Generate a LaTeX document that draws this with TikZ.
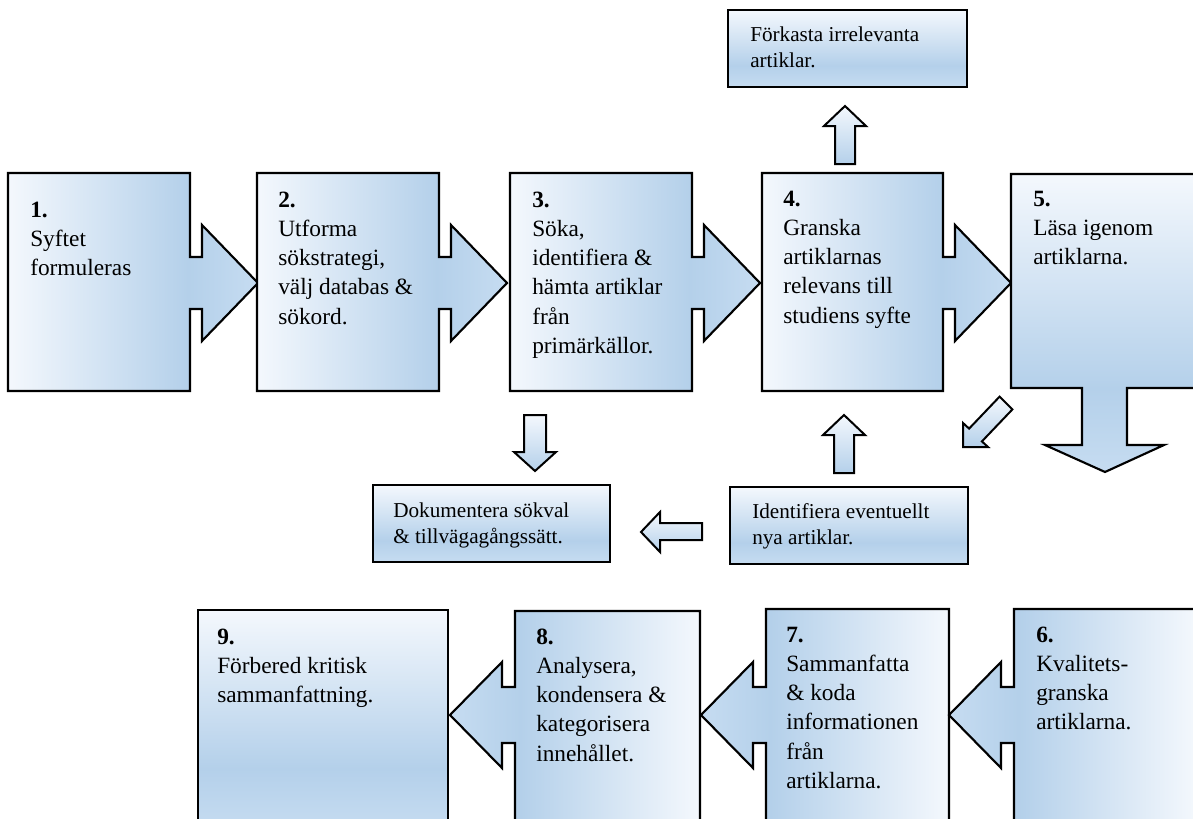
\documentclass[tikz,border=0pt]{standalone}
\usepackage{fontspec}
\setmainfont{Liberation Serif}
\definecolor{lt}{RGB}{244,248,253}
\definecolor{bl}{RGB}{180,208,234}
\definecolor{bltwo}{RGB}{198,220,241}
\pgfdeclarehorizontalshading{sLR}{100bp}{color(0bp)=(lt); color(25bp)=(lt); color(61bp)=(bl); color(75bp)=(bltwo); color(100bp)=(bltwo)}
\pgfdeclarehorizontalshading{sRL}{100bp}{color(0bp)=(bltwo); color(25bp)=(bltwo); color(39bp)=(bl); color(75bp)=(lt); color(100bp)=(lt)}
\pgfdeclareverticalshading{sTB}{100bp}{color(0bp)=(bltwo); color(25bp)=(bltwo); color(39bp)=(bl); color(75bp)=(lt); color(100bp)=(lt)}
\tikzset{
  bx/.style={draw=black, line width=1.6pt, line join=miter},
  sarrow/.style={draw=black, line width=1.5pt, line join=miter, top color=lt, bottom color=bl},
  maintxt/.style={anchor=north west, inner sep=0pt, align=left, yshift=14pt, font=\fontsize{17.5}{21.9}\selectfont},
  smalltxt/.style={anchor=north west, inner sep=0pt, align=left, yshift=12.5pt, font=\fontsize{15.9}{19.8}\selectfont}
}
\newcommand{\mrule}{\rule{0pt}{14pt}}
\newcommand{\srule}{\rule{0pt}{12.5pt}}
% top row box with arrow to the right: #1 left, #2 right
\newcommand{\toprowbox}[2]{%
  \shadedraw[bx, shading=sLR] (#1,173) -- (#2,173) -- (#2,257) -- ({#2+12},257) -- ({#2+12},225) -- ({#2+68},283) -- ({#2+12},341) -- ({#2+12},309) -- (#2,309) -- (#2,391) -- (#1,391) -- cycle;}
% bottom row box with arrow to the left: #1 left, #2 right, #3 top
\newcommand{\botrowbox}[3]{%
  \shadedraw[bx, shading=sRL] (#1,#3) -- (#2,#3) -- (#2,830) -- (#1,830) -- (#1,743) -- ({#1-13},743) -- ({#1-13},768) -- ({#1-65},715) -- ({#1-13},662) -- ({#1-13},687) -- (#1,687) -- cycle;}
\begin{document}
\begin{tikzpicture}[x=0.75pt, y=-0.75pt]
\useasboundingbox (0,0) rectangle (1193,818);
\clip (0,0) rectangle (1193,818);
\fill[white] (0,0) rectangle (1193,818);

% top row
\toprowbox{8}{190}
\toprowbox{257}{439}
\toprowbox{510}{692}
\toprowbox{762}{943}
\shadedraw[bx, shading=sTB] (1011,174) -- (1197,174) -- (1197,388) -- (1127,388) -- (1127,445) -- (1164,445) -- (1105,472) -- (1045,445) -- (1082,445) -- (1082,388) -- (1011,388) -- cycle;

% bottom row
\shadedraw[bx, shading=sTB] (198,610) rectangle (448,830);
\botrowbox{515}{700}{611}
\botrowbox{766}{949}{609}
\botrowbox{1014}{1197}{609}

% small boxes
\shadedraw[bx, shading=sTB] (728,10) rectangle (967,87);
\shadedraw[bx, shading=sTB] (373,485) rectangle (610,562);
\shadedraw[bx, shading=sTB] (730,487) rectangle (968,564);

% small arrows
\path[sarrow] (835,164) -- (835,126) -- (824,126) -- (845,106) -- (866,126) -- (855,126) -- (855,164) -- cycle;
\path[sarrow] (834,473) -- (834,435) -- (823,435) -- (844,415) -- (865,435) -- (854,435) -- (854,473) -- cycle;
\path[sarrow] (524,415) -- (546,415) -- (546,452) -- (556,452) -- (535,471) -- (514,452) -- (524,452) -- cycle;
\path[sarrow] (702,523) -- (702,540) -- (660,540) -- (660,552) -- (641,532) -- (660,512) -- (660,523) -- cycle;
\path[sarrow] (963,447) -- (963,423) -- (969.1,428.6) -- (999.6,396.6) -- (1012.4,409.4) -- (981.9,441.4) -- (988,447) -- cycle;

% texts
\node[maintxt] (n1) at (30,217) {\mrule\textbf{1.}\\Syftet\\formuleras};
\node[maintxt] (n2) at (278,207) {\mrule\textbf{2.}\\Utforma\\sökstrategi,\\välj databas \&\\sökord.};
\node[maintxt] (n3) at (532,207) {\mrule\textbf{3.}\\Söka,\\identifiera \&\\hämta artiklar\\från\\primärkällor.};
\node[maintxt] (n4) at (783,206) {\mrule\textbf{4.}\\Granska\\artiklarnas\\relevans till\\studiens syfte};
\node[maintxt] (n5) at (1033,206) {\mrule\textbf{5.}\\Läsa igenom\\artiklarna.};
\node[maintxt] (n6) at (1036,642) {\mrule\textbf{6.}\\Kvalitets-\\granska\\artiklarna.};
\node[maintxt] (n7) at (786,642) {\mrule\textbf{7.}\\Sammanfatta\\\& koda\\informationen\\från\\artiklarna.};
\node[maintxt] (n8) at (536,644) {\mrule\textbf{8.}\\Analysera,\\kondensera \&\\kategorisera\\innehållet.};
\node[maintxt] (n9) at (217,644) {\mrule\textbf{9.}\\Förbered kritisk\\sammanfattning.};

\node[smalltxt] (s1) at (750,41) {\srule Förkasta irrelevanta\\artiklar.};
\node[smalltxt] (s2) at (393,517) {\srule Dokumentera sökval\\\& tillvägagångssätt.};
\node[smalltxt] (s3) at (752,518) {\srule Identifiera eventuellt\\nya artiklar.};
\end{tikzpicture}
\end{document}
